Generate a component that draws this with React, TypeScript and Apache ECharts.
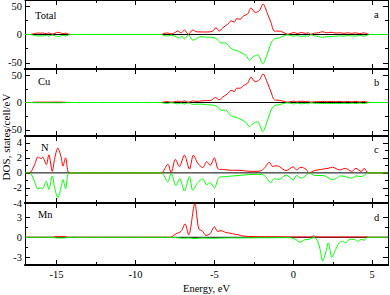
import React, { useEffect, useRef } from "react";
import * as echarts from "echarts";

const energyMajorTicks = [-15, -10, -5, 0, 5];
const energyMinorTicks = [-12.5, -7.5, -2.5, 2.5];

const panelNames = ["Total", "Cu", "N", "Mn"];
const panelLetters = ["a", "b", "c", "d"];
const yRanges = [[-61, 61], [-61, 61], [-4, 4.9], [-4.2, 5.2]];
const yMajorTicks = [[-50, 0, 50], [-50, 0, 50], [-4, -2, 0, 2, 4], [-3, 0, 3]];
const yMinorTicks = [[-25, 25], [-25, 25], [-3, -1, 1, 3], [-1.5, 1.5]];

const totalUp = [[-17,0],[-16.75,0],[-16.6,0.3],[-16.4,1.7],[-16.2,2.6],[-16.0,2.4],[-15.9,2.6],[-15.65,1.6],[-15.5,2.9],[-15.27,0.8],[-15.1,2.2],[-14.92,3.8],[-14.75,2.9],[-14.6,1.4],[-14.43,2.5],[-14.25,0.7],[-14.1,0],[-8.5,0],[-8.3,0.5],[-8.1,2.5],[-7.9,2.5],[-7.75,0.8],[-7.53,3],[-7.32,6],[-7.1,3],[-6.9,8],[-6.65,0.5],[-6.37,8],[-6.16,5],[-5.84,4.5],[-5.42,4.5],[-5.1,6],[-4.9,12],[-4.68,6],[-4.47,12],[-4.16,18],[-3.94,24],[-3.73,22],[-3.59,28],[-3.37,27],[-3.15,33],[-2.9,36],[-2.68,47],[-2.41,39],[-2.15,42],[-1.92,54],[-1.63,36],[-1.41,21],[-1.2,6],[-0.89,6],[-0.57,3],[-0.36,0.5],[-0.15,2],[0.05,3.5],[0.25,1.5],[0.5,3.5],[0.75,2],[0.95,3],[1.1,0.3],[1.35,2.5],[1.6,3],[1.85,5],[2.1,3],[2.4,4],[2.7,2.5],[2.95,3],[3.2,2],[3.45,3],[3.7,2],[3.95,3],[4.2,1.5],[4.45,3],[4.7,1],[4.85,0],[6,0]];
const totalDown = [[-17,0],[-16.75,0],[-16.6,-0.3],[-16.4,-1.8],[-16.2,-2.7],[-16.0,-2.5],[-15.9,-2.6],[-15.65,-1.6],[-15.5,-2.8],[-15.27,-0.9],[-15.1,-2.4],[-14.92,-3.9],[-14.75,-2.7],[-14.6,-1.3],[-14.43,-2.6],[-14.25,-0.8],[-14.1,0],[-8.5,0],[-8.3,-0.5],[-8.1,-2.5],[-7.9,-2.5],[-7.75,-1],[-7.5,-3],[-7.25,-6],[-7.05,-3],[-6.9,-8],[-6.65,-0.5],[-6.37,-10],[-6.16,-8],[-5.9,-4],[-5.5,-4.5],[-5.2,-5],[-5.0,-6],[-4.79,-9],[-4.58,-15],[-4.3,-15],[-3.94,-25],[-3.63,-28],[-3.31,-32],[-3.0,-37],[-2.78,-45],[-2.53,-39],[-2.26,-36],[-1.94,-52],[-1.63,-33],[-1.41,-15],[-1.2,-8],[-0.89,-6],[-0.57,-2],[-0.36,-0.5],[-0.15,-2],[0.05,-3],[0.25,-1.5],[0.5,-3.5],[0.75,-2.5],[0.95,-3],[1.1,-0.3],[1.35,-2.5],[1.6,-3.5],[1.85,-5],[2.1,-4],[2.4,-3.5],[2.7,-3],[2.95,-2.5],[3.2,-3],[3.45,-2],[3.7,-2.5],[3.95,-3],[4.2,-1.5],[4.45,-3],[4.7,-1],[4.85,0],[6,0]];

const cuUp = [[-17,0],[-16.6,0],[-16.4,0.5],[-16.0,0.6],[-15.5,0.6],[-15.0,0.8],[-14.5,0.5],[-14.2,0],[-8.5,0],[-8.3,0.3],[-8.1,1.5],[-7.9,1.5],[-7.75,0.4],[-7.5,1.5],[-7.3,2.5],[-7.1,1],[-6.9,3],[-6.65,0.5],[-6.37,3],[-6.1,2],[-5.8,3],[-5.5,3.5],[-5.2,4],[-4.95,9],[-4.7,5],[-4.47,10],[-4.16,16],[-3.94,22],[-3.73,20],[-3.59,26],[-3.37,26],[-3.15,31],[-2.9,35],[-2.68,46],[-2.41,38],[-2.15,41],[-1.92,52],[-1.63,35],[-1.41,19],[-1.2,5],[-0.89,4],[-0.57,2],[-0.36,0.5],[-0.15,1.5],[0.05,2.5],[0.25,1],[0.5,2.5],[0.75,1.5],[0.95,2.5],[1.1,0.3],[1.35,1.5],[1.6,1.5],[1.85,2],[2.1,1.5],[2.4,2],[2.7,1.5],[2.95,2],[3.2,1.2],[3.45,2],[3.7,1.2],[3.95,2],[4.2,1],[4.45,2],[4.7,0.5],[4.85,0],[6,0]];
const cuDown = [[-17,0],[-16.6,0],[-16.4,-0.3],[-16.0,-0.4],[-15.5,-0.4],[-15.0,-0.5],[-14.5,-0.3],[-14.2,0],[-8.5,0],[-8.3,-0.3],[-8.1,-1.5],[-7.9,-1.5],[-7.75,-0.4],[-7.5,-1.5],[-7.3,-2.5],[-7.1,-1],[-6.9,-3],[-6.65,-0.5],[-6.37,-3.5],[-6.1,-3],[-5.8,-3],[-5.5,-4],[-5.2,-4.5],[-5.0,-5.5],[-4.79,-8],[-4.58,-14],[-4.3,-14],[-3.94,-24],[-3.63,-27],[-3.31,-31],[-3.0,-36],[-2.78,-44],[-2.53,-38],[-2.26,-35],[-1.94,-53],[-1.63,-32],[-1.41,-14],[-1.2,-6],[-0.89,-4],[-0.57,-1.5],[-0.36,-0.5],[-0.15,-1.5],[0.05,-2.5],[0.25,-1],[0.5,-2.5],[0.75,-1.5],[0.95,-2.5],[1.1,-0.3],[1.35,-1.5],[1.6,-1.5],[1.85,-2],[2.1,-1.5],[2.4,-2],[2.7,-1.5],[2.95,-2],[3.2,-1.2],[3.45,-2],[3.7,-1.2],[3.95,-2],[4.2,-1],[4.45,-2],[4.7,-0.5],[4.85,0],[6,0]];

const nUp = [[-17,0],[-16.75,0],[-16.6,0.2],[-16.39,1.1],[-16.18,2.1],[-15.97,1.9],[-15.88,2.1],[-15.65,1.1],[-15.49,2.4],[-15.27,0.2],[-15.13,1.8],[-14.92,3.3],[-14.7,2.0],[-14.6,0.9],[-14.43,2.0],[-14.28,0.2],[-14.15,0],[-8.4,0],[-8.27,0.1],[-7.95,1.15],[-7.74,0.05],[-7.47,1.8],[-7.22,0.85],[-6.9,2.35],[-6.58,0.5],[-6.33,2.35],[-6.06,1.3],[-5.74,0.7],[-5.49,1.5],[-5.27,1.0],[-5.0,2.0],[-4.75,0.5],[-4.4,0.45],[-4.0,0.35],[-3.5,0.35],[-3.0,0.25],[-2.5,0.2],[-2.1,0.25],[-1.84,0.6],[-1.52,1.4],[-1.3,0.85],[-1.1,0.95],[-0.89,0.85],[-0.46,0.3],[0,0.8],[0.2,0.4],[0.49,0.75],[0.8,0.5],[1.01,0],[1.33,0.3],[1.86,0.5],[2.2,0.6],[2.49,0.75],[2.91,0.4],[3.3,0.6],[3.7,0.2],[3.97,0.6],[4.3,0.2],[4.49,0.6],[4.75,0],[6,0]];
const nDown = [[-17,0],[-16.75,0],[-16.6,-0.2],[-16.39,-1.2],[-16.18,-2.1],[-15.97,-2.0],[-15.88,-2.1],[-15.65,-1.1],[-15.49,-2.2],[-15.27,-0.4],[-15.13,-1.9],[-14.92,-3.3],[-14.7,-1.8],[-14.6,-0.9],[-14.43,-2.1],[-14.28,-0.2],[-14.15,0],[-8.4,0],[-8.27,-0.1],[-7.95,-1.2],[-7.74,-0.05],[-7.43,-1.7],[-7.2,-0.75],[-6.9,-2.4],[-6.58,-0.5],[-6.37,-2.3],[-6.06,-1.3],[-5.74,-0.8],[-5.49,-1.6],[-5.27,-1.3],[-5.0,-2.0],[-4.7,-0.6],[-4.3,-0.5],[-3.8,-0.4],[-3.2,-0.3],[-2.5,-0.2],[-2.0,-0.2],[-1.75,-0.5],[-1.44,-1.3],[-1.2,-0.75],[-1.0,-0.85],[-0.89,-0.85],[-0.46,-0.3],[0,-0.9],[0.2,-0.35],[0.5,-0.7],[0.8,-0.35],[1.01,0],[1.35,-0.35],[1.9,-0.35],[2.5,-0.9],[2.75,-0.7],[3.0,-0.4],[3.3,-0.5],[3.7,-0.7],[4.0,-0.4],[4.3,-0.5],[4.5,-0.3],[4.75,0],[6,0]];

const mnUp = [[-17,0],[-15.2,0],[-15.0,0.15],[-14.7,0.1],[-14.5,0.15],[-14.3,0],[-7.8,0],[-7.68,0.1],[-7.43,0.55],[-7.11,0.9],[-6.86,2.05],[-6.63,0.35],[-6.24,5.1],[-5.99,1.25],[-5.78,1.0],[-5.53,0.3],[-5.27,0.55],[-5.0,1.6],[-4.79,0.9],[-4.58,1.0],[-4.3,0.75],[-4.05,0.65],[-3.67,0.45],[-3.5,0.4],[-3.2,0.2],[-2.5,0.1],[-1.0,0.08],[0.5,0.05],[1.1,0.05],[1.3,0.2],[1.5,0.05],[4.7,0.05],[4.8,0],[6,0]];
const mnDown = [[-17,0],[-15.2,0],[-15.0,-0.1],[-14.5,-0.1],[-14.3,0],[-7.8,0],[-7.4,-0.05],[-7.0,-0.15],[-6.6,-0.1],[-6.24,-0.2],[-5.8,-0.1],[-5.0,-0.15],[-4.5,-0.1],[-3.0,-0.08],[-1.0,-0.06],[-0.25,-0.05],[-0.04,-0.15],[0.17,-0.35],[0.42,-0.75],[0.7,-0.4],[1.0,-0.3],[1.33,0],[1.54,-0.6],[1.69,-1.75],[1.86,-3.6],[2.07,-2.2],[2.22,-0.85],[2.45,-3.05],[2.66,-2.0],[2.91,-0.85],[3.12,-0.6],[3.33,-0.85],[3.54,-0.35],[3.86,-0.3],[4.07,-0.6],[4.3,-0.3],[4.49,-0.45],[4.7,0],[6,0]];

const spinUp = [totalUp, cuUp, nUp, mnUp];
const spinDown = [totalDown, cuDown, nDown, mnDown];

const X_MIN = -17;
const X_MAX = 6;
const FONT = "Liberation Serif";

const gridTops = [0, 69, 136, 203];
const gridHeights = [69, 67, 67, 67];
const GRID_LEFT = 25;
const GRID_WIDTH = 363;

function buildOption() {
  const grids: any[] = [];
  const xAxes: any[] = [];
  const yAxes: any[] = [];
  const series: any[] = [];
  const graphics: any[] = [];

  for (let i = 0; i < 4; i++) {
    grids.push({ left: GRID_LEFT, top: gridTops[i], width: GRID_WIDTH, height: gridHeights[i], containLabel: false });
    const isLast = i === 3;
    const xBase = {
      type: "value", gridIndex: i, min: X_MIN, max: X_MAX,
      splitLine: { show: false },
    };
    xAxes.push({
      ...xBase, position: "bottom",
      axisLine: { show: true, onZero: false, lineStyle: { color: "#000", width: 2 } },
      axisTick: { show: true, inside: true, length: 5, customValues: energyMajorTicks, lineStyle: { color: "#000", width: 1 } },
      axisLabel: isLast
        ? { show: true, customValues: energyMajorTicks, color: "#000", fontFamily: FONT, fontSize: 10.5, margin: 4, formatter: (v: number) => String(v) }
        : { show: false },
      name: isLast ? "Energy, eV" : "",
      nameLocation: "middle",
      nameGap: 18,
      nameTextStyle: { color: "#000", fontFamily: FONT, fontSize: 10.5 },
    });
    xAxes.push({
      ...xBase, position: "bottom",
      axisLine: { show: false, onZero: false },
      axisTick: { show: true, inside: true, length: 3, customValues: energyMinorTicks, lineStyle: { color: "#000", width: 1 } },
      axisLabel: { show: false },
    });
    xAxes.push({
      ...xBase, position: "top",
      axisLine: { show: true, onZero: false, lineStyle: { color: "#000", width: i === 0 ? 1 : 2 } },
      axisTick: { show: true, inside: true, length: 5, customValues: energyMajorTicks, lineStyle: { color: "#000", width: 1 } },
      axisLabel: { show: false },
    });
    xAxes.push({
      ...xBase, position: "top",
      axisLine: { show: false, onZero: false },
      axisTick: { show: true, inside: true, length: 3, customValues: energyMinorTicks, lineStyle: { color: "#000", width: 1 } },
      axisLabel: { show: false },
    });

    const yBase = {
      type: "value", gridIndex: i, min: yRanges[i][0], max: yRanges[i][1],
      splitLine: { show: false },
    };
    yAxes.push({
      ...yBase, position: "left",
      axisLine: { show: true, onZero: false, lineStyle: { color: "#000", width: 1 } },
      axisTick: { show: true, inside: true, length: 5, customValues: yMajorTicks[i], lineStyle: { color: "#000", width: 1 } },
      axisLabel: { show: true, customValues: yMajorTicks[i], color: "#000", fontFamily: FONT, fontSize: 10.5, margin: 3, formatter: (v: number) => String(v) },
    });
    yAxes.push({
      ...yBase, position: "left",
      axisLine: { show: false, onZero: false },
      axisTick: { show: true, inside: true, length: 3, customValues: yMinorTicks[i], lineStyle: { color: "#000", width: 1 } },
      axisLabel: { show: false },
    });
    yAxes.push({
      ...yBase, position: "right",
      axisLine: { show: true, onZero: false, lineStyle: { color: "#000", width: 1 } },
      axisTick: { show: true, inside: true, length: 5, customValues: yMajorTicks[i], lineStyle: { color: "#000", width: 1 } },
      axisLabel: { show: false },
    });
    yAxes.push({
      ...yBase, position: "right",
      axisLine: { show: false, onZero: false },
      axisTick: { show: true, inside: true, length: 3, customValues: yMinorTicks[i], lineStyle: { color: "#000", width: 1 } },
      axisLabel: { show: false },
    });

    const xi = i * 4;
    const yi = i * 4;
    series.push({
      type: "line", xAxisIndex: xi, yAxisIndex: yi,
      data: [[X_MIN, 0], [X_MAX, 0]],
      symbol: "none", silent: true, z: 1,
      lineStyle: { color: "#000", width: 1 },
    });
    series.push({
      type: "line", xAxisIndex: xi, yAxisIndex: yi,
      data: spinUp[i], symbol: "none", smooth: 0.3, z: 2,
      lineStyle: { color: "#ff0000", width: 1 },
    });
    series.push({
      type: "line", xAxisIndex: xi, yAxisIndex: yi,
      data: spinDown[i], symbol: "none", smooth: 0.3, z: 3,
      lineStyle: { color: "#00ff00", width: 1 },
    });

    const labelY = [16, 82, 148, 215][i];
    const labelX = [35, 38, 41, 38][i];
    graphics.push({
      type: "text", left: labelX, top: labelY - 6,
      style: { text: panelNames[i], fill: "#000", font: `10.5px "${FONT}"` },
    });
    graphics.push({
      type: "text", left: 374, top: [15, 83, 150, 218][i] - 6,
      style: { text: panelLetters[i], fill: "#000", font: `10.5px "${FONT}"` },
    });
  }

  graphics.push({
    type: "text", x: 6, y: 137, rotation: Math.PI / 2,
    style: { text: "DOS, states/cell/eV", fill: "#000", font: `11px "${FONT}"`, align: "center", verticalAlign: "middle" },
  });

  return {
    animation: false,
    backgroundColor: "#fff",
    grid: grids,
    xAxis: xAxes,
    yAxis: yAxes,
    series,
    graphic: graphics,
  };
}

export default function App() {
  const ref = useRef<HTMLDivElement>(null);
  useEffect(() => {
    if (!ref.current) return;
    const chart = echarts.init(ref.current, undefined, { renderer: "svg" });
    chart.setOption(buildOption() as any);
    return () => chart.dispose();
  }, []);
  return <div ref={ref} style={{ position: "fixed", left: 0, top: 0, width: 390, height: 295 }} />;
}
